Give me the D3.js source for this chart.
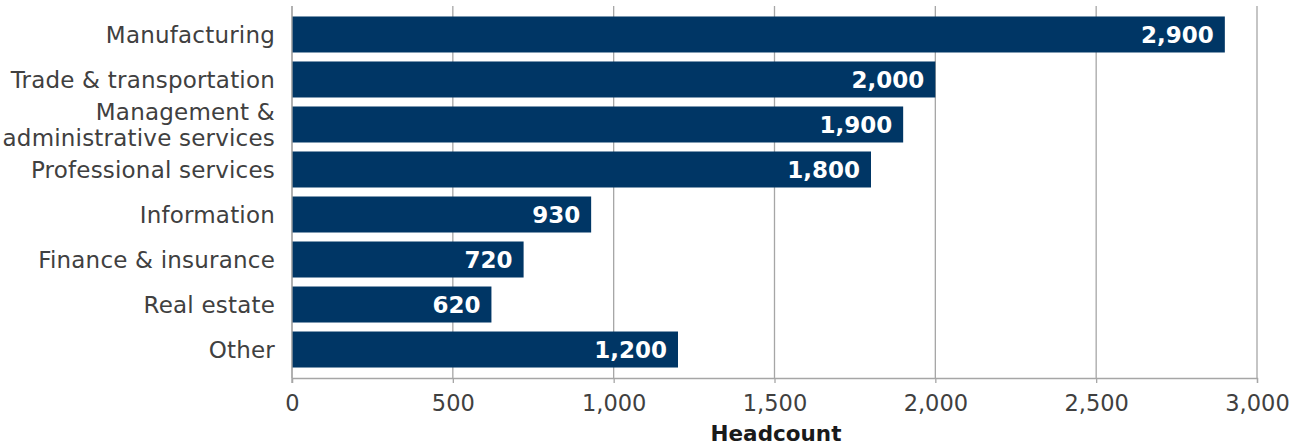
<!DOCTYPE html>
<html>
<head>
<meta charset="utf-8">
<script src="https://cdn.jsdelivr.net/npm/d3@7"></script>
<style>
  body { margin: 0; background: #fff; }
  svg { display: block; font-family: "DejaVu Sans", sans-serif; }
</style>
</head>
<body>
<svg id="chart" width="1305" height="446"></svg>
<script>
// Headcount by industry
const categories = [
  ["Manufacturing"],
  ["Trade & transportation"],
  ["Management &", "administrative services"],
  ["Professional services"],
  ["Information"],
  ["Finance & insurance"],
  ["Real estate"],
  ["Other"]
];
const headcount = [2900, 2000, 1900, 1800, 930, 720, 620, 1200];
const xTicks = [0, 500, 1000, 1500, 2000, 2500, 3000];
const xTitle = "Headcount";

const svg = d3.select("#chart");
const plotLeft = 292, plotRight = 1257, plotTop = 6, plotBottom = 378;
const labelFont = "'DejaVu Sans', sans-serif";

const keys = categories.map(c => c.join(" "));
const x = d3.scaleLinear().domain([0, 3000]).range([plotLeft, plotRight]);
const y = d3.scaleBand().domain(keys).range([plotTop, plotBottom])
  .paddingInner(0.2).paddingOuter(0.233);

const fmt = d3.format(",");

// vertical gridlines
svg.append("g").selectAll("line").data(xTicks).join("line")
  .attr("x1", d => x(d)).attr("x2", d => x(d))
  .attr("y1", plotTop).attr("y2", plotBottom)
  .attr("stroke", "#a6a6a6").attr("stroke-width", 1.3);

// bars
svg.append("g").selectAll("rect").data(headcount).join("rect")
  .attr("x", x(0))
  .attr("y", (d, i) => y(keys[i]))
  .attr("width", d => x(d) - x(0))
  .attr("height", y.bandwidth())
  .attr("fill", "#003665");

// value labels inside bar ends
svg.append("g").selectAll("text").data(headcount).join("text")
  .attr("x", d => x(d) - 11)
  .attr("y", (d, i) => y(keys[i]) + y.bandwidth() / 2)
  .attr("dy", "0.36em")
  .attr("text-anchor", "end")
  .attr("fill", "#fff")
  .attr("font-weight", 700)
  .attr("font-size", 23)
  .text(d => fmt(d));

// x axis
const xAxis = d3.axisBottom(x).tickValues(xTicks).tickFormat(fmt)
  .tickSize(5).tickPadding(12);
const gx = svg.append("g").attr("transform", `translate(0,${plotBottom})`).call(xAxis);
gx.select(".domain").attr("stroke", "#a6a6a6").attr("stroke-width", 1.3);
gx.selectAll(".tick line").attr("stroke", "#a6a6a6").attr("stroke-width", 1.3);
gx.selectAll(".tick text").attr("fill", "#404040").attr("font-size", 22.5)
  .attr("font-family", labelFont);

// y axis line
svg.append("line").attr("x1", plotLeft).attr("x2", plotLeft)
  .attr("y1", plotTop).attr("y2", plotBottom + 5)
  .attr("stroke", "#a6a6a6").attr("stroke-width", 1.3);

// category labels
const lab = svg.append("g").selectAll("text").data(categories).join("text")
  .attr("text-anchor", "end")
  .attr("fill", "#404040")
  .attr("font-size", 23)
  .attr("letter-spacing", 0.2)
  .attr("transform", (d, i) => `translate(${plotLeft - 17},${y(keys[i]) + y.bandwidth() / 2})`);
lab.each(function(lines) {
  const t = d3.select(this);
  const n = lines.length;
  lines.forEach((s, j) => {
    t.append("tspan").attr("x", 0)
      .attr("y", (j - (n - 1) / 2) * 26)
      .attr("dy", "0.36em")
      .text(s);
  });
});

// axis title
svg.append("text")
  .attr("x", 776).attr("y", 441)
  .attr("text-anchor", "middle")
  .attr("fill", "#1a1a1a")
  .attr("font-weight", 700)
  .attr("font-size", 21.5)
  .text(xTitle);
</script>
</body>
</html>
